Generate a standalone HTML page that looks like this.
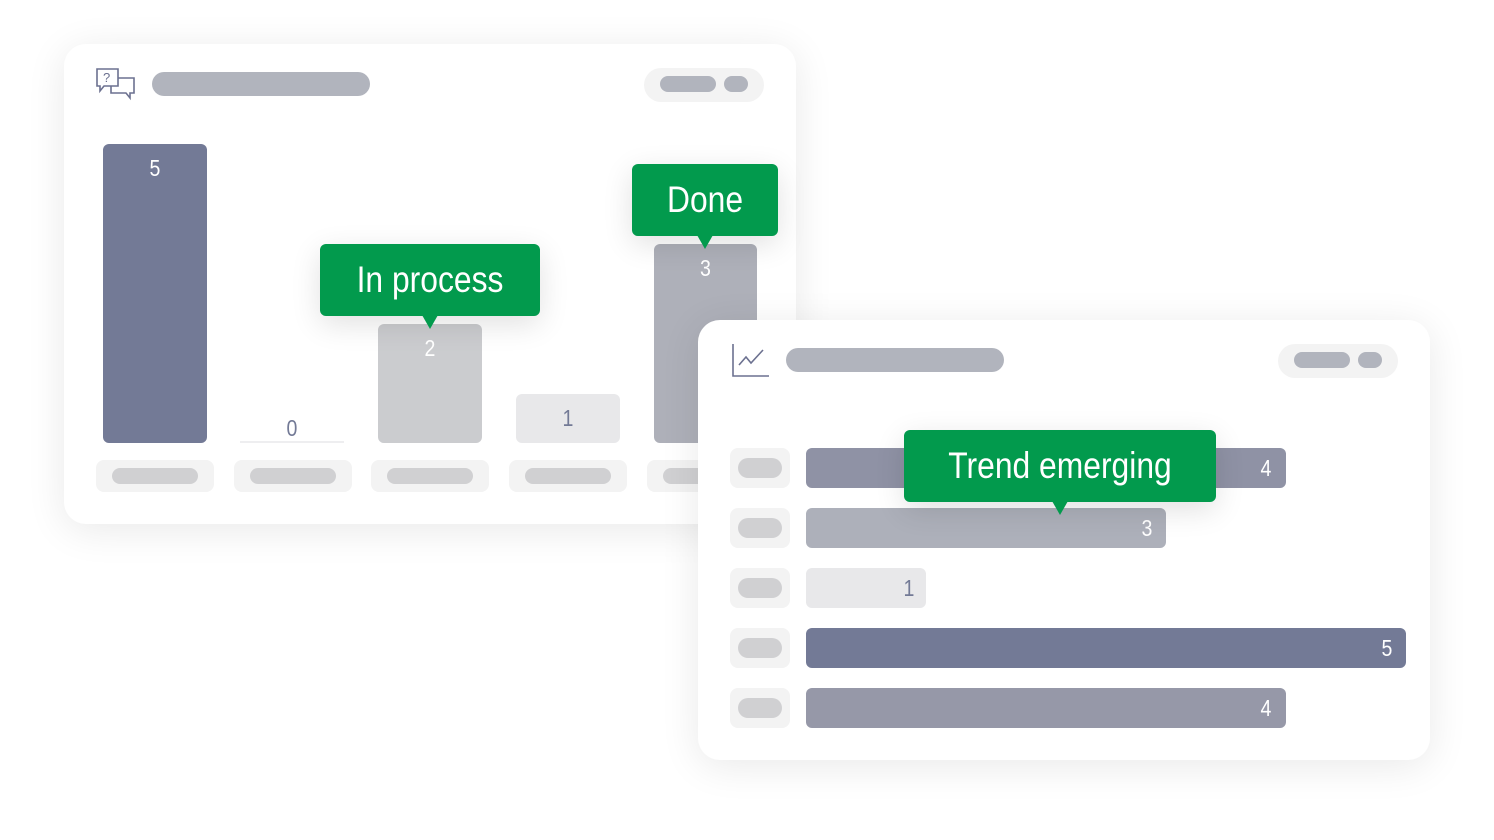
<!DOCTYPE html>
<html><head><style>
body{margin:0;width:1494px;height:840px;background:#fff;position:relative;overflow:hidden;font-family:"Liberation Sans Narrow","Liberation Sans",sans-serif}
div{position:absolute;box-sizing:border-box}
.card{background:#fff;border-radius:22px;box-shadow:0 6px 40px rgba(0,0,0,0.09)}
.p{border-radius:12px}
.num{color:#fff;font-size:23px;text-align:center;line-height:1;transform:scaleX(0.85)}
.tip{background:#029a4d;border-radius:6px;box-shadow:0 8px 30px rgba(0,0,0,0.12);height:72px}
.tip span{position:absolute;left:0;right:0;top:0;color:#fff;font-size:37px;text-align:center;line-height:72px;transform:scaleX(0.86)}
.tip:after{content:"";position:absolute;left:50%;bottom:-13px;margin-left:-8px;border-left:8px solid transparent;border-right:8px solid transparent;border-top:14px solid #029a4d}
.lc{background:#f3f3f3;border-radius:8px}
.li{background:#d0d0d2;border-radius:8px}
</style></head><body>
<div class="card" style="left:64px;top:44px;width:732px;height:480px"></div>
<svg style="position:absolute;left:94px;top:66px" width="44" height="36" viewBox="0 0 44 36" fill="none" stroke="#6c7190" stroke-width="1.6"><path d="M3 3h21v17H10l-4 5v-5H3z"/><path d="M24 12h16v15h-4v5l-4-5H17v-7"/><text x="9" y="16" font-size="13" fill="#6c7190" stroke="none" font-family="Liberation Sans">?</text></svg>
<div class="p" style="left:152px;top:72px;width:218px;height:24px;background:#b1b4bd"></div>
<div style="left:644px;top:68px;width:120px;height:34px;background:#f3f3f3;border-radius:17px"></div>
<div style="left:660px;top:76px;width:56px;height:16px;background:#b1b4bd;border-radius:8px"></div>
<div style="left:724px;top:76px;width:24px;height:16px;background:#b1b4bd;border-radius:8px"></div>

<div style="left:103px;top:144px;width:104px;height:299px;background:#737a96;border-radius:6px"></div>
<div class="num" style="left:103px;top:157px;width:104px">5</div>
<div style="left:240px;top:441px;width:104px;height:2px;background:#eeeef0"></div>
<div class="num" style="left:240px;top:417px;width:104px;color:#737a96">0</div>
<div style="left:378px;top:324px;width:104px;height:119px;background:#cbcccf;border-radius:6px"></div>
<div class="num" style="left:378px;top:337px;width:104px">2</div>
<div style="left:516px;top:394px;width:104px;height:49px;background:#e8e8ea;border-radius:6px"></div>
<div class="num" style="left:516px;top:407px;width:104px;color:#737a96">1</div>
<div style="left:654px;top:244px;width:103px;height:199px;background:#aeb0b9;border-radius:6px"></div>
<div class="num" style="left:654px;top:257px;width:103px">3</div>

<div class="lc" style="left:96px;top:460px;width:118px;height:32px"></div><div class="li" style="left:112px;top:468px;width:86px;height:16px"></div>
<div class="lc" style="left:234px;top:460px;width:118px;height:32px"></div><div class="li" style="left:250px;top:468px;width:86px;height:16px"></div>
<div class="lc" style="left:371px;top:460px;width:118px;height:32px"></div><div class="li" style="left:387px;top:468px;width:86px;height:16px"></div>
<div class="lc" style="left:509px;top:460px;width:118px;height:32px"></div><div class="li" style="left:525px;top:468px;width:86px;height:16px"></div>
<div class="lc" style="left:647px;top:460px;width:118px;height:32px"></div><div class="li" style="left:663px;top:468px;width:86px;height:16px"></div>

<div class="tip" style="left:320px;top:244px;width:220px"><span>In process</span></div>
<div class="tip" style="left:632px;top:164px;width:146px"><span>Done</span></div>

<div class="card" style="left:698px;top:320px;width:732px;height:440px"></div>
<svg style="position:absolute;left:730px;top:342px" width="42" height="38" viewBox="0 0 42 38" fill="none" stroke="#6c7190" stroke-width="1.6"><path d="M3 2v32h36"/><path d="M9 23l7-8 5 6 12-13"/></svg>
<div class="p" style="left:786px;top:348px;width:218px;height:24px;background:#b1b4bd"></div>
<div style="left:1278px;top:344px;width:120px;height:34px;background:#f3f3f3;border-radius:17px"></div>
<div style="left:1294px;top:352px;width:56px;height:16px;background:#b1b4bd;border-radius:8px"></div>
<div style="left:1358px;top:352px;width:24px;height:16px;background:#b1b4bd;border-radius:8px"></div>

<div class="lc" style="left:730px;top:448px;width:60px;height:40px"></div><div class="li" style="left:738px;top:458px;width:44px;height:20px;border-radius:10px"></div>
<div class="lc" style="left:730px;top:508px;width:60px;height:40px"></div><div class="li" style="left:738px;top:518px;width:44px;height:20px;border-radius:10px"></div>
<div class="lc" style="left:730px;top:568px;width:60px;height:40px"></div><div class="li" style="left:738px;top:578px;width:44px;height:20px;border-radius:10px"></div>
<div class="lc" style="left:730px;top:628px;width:60px;height:40px"></div><div class="li" style="left:738px;top:638px;width:44px;height:20px;border-radius:10px"></div>
<div class="lc" style="left:730px;top:688px;width:60px;height:40px"></div><div class="li" style="left:738px;top:698px;width:44px;height:20px;border-radius:10px"></div>

<div style="left:806px;top:448px;width:480px;height:40px;background:#8f92a5;border-radius:6px"></div>
<div class="num" style="left:1246px;top:457px;width:40px">4</div>
<div style="left:806px;top:508px;width:360px;height:40px;background:#adb0ba;border-radius:6px"></div>
<div class="num" style="left:1127px;top:517px;width:40px">3</div>
<div style="left:806px;top:568px;width:120px;height:40px;background:#e8e8ea;border-radius:6px"></div>
<div class="num" style="left:889px;top:577px;width:40px;color:#737a96">1</div>
<div style="left:806px;top:628px;width:600px;height:40px;background:#737a96;border-radius:6px"></div>
<div class="num" style="left:1367px;top:637px;width:40px">5</div>
<div style="left:806px;top:688px;width:480px;height:40px;background:#9698a8;border-radius:6px"></div>
<div class="num" style="left:1246px;top:697px;width:40px">4</div>

<div class="tip" style="left:904px;top:430px;width:312px"><span>Trend emerging</span></div>
</body></html>
